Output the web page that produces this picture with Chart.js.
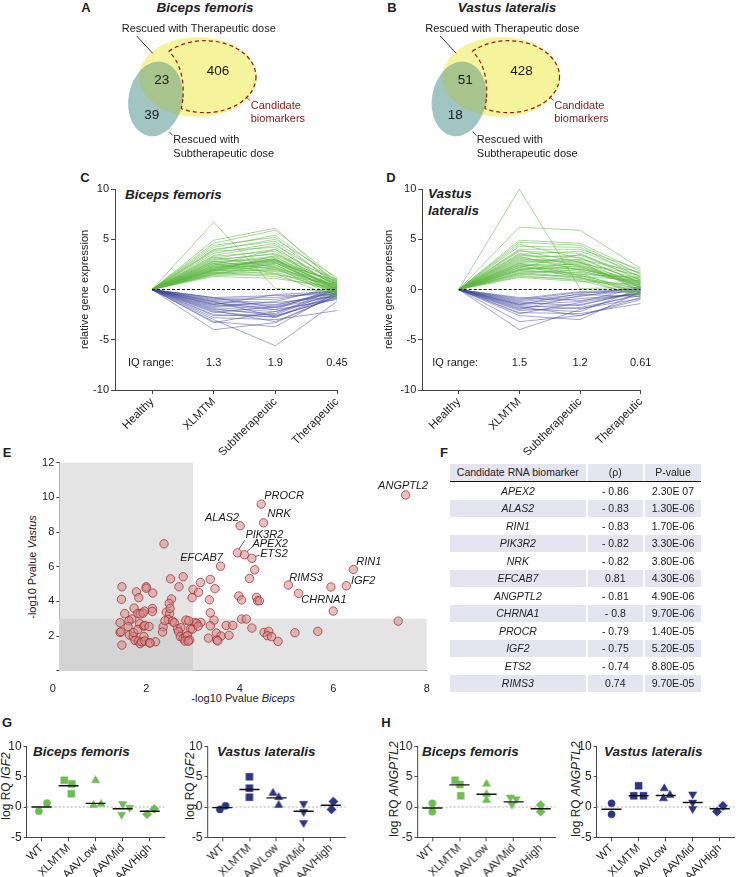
<!DOCTYPE html>
<html>
<head>
<meta charset="utf-8">
<script src="https://cdn.jsdelivr.net/npm/chart.js@4.4.0/dist/chart.umd.min.js"></script>
<style>
  body { margin: 0; background: #fff; }
  #page { position: relative; width: 738px; height: 877px; overflow: hidden; background: #fff;
          font-family: "Liberation Sans", Arial, sans-serif; color: #222; }
  canvas { position: absolute; }
  .lbl { position: absolute; white-space: nowrap; transform: translate(0, -50%); }
  .ctr { position: absolute; white-space: nowrap; transform: translate(-50%, -50%); }
  .vt { position: absolute; white-space: nowrap; transform: translate(-50%, -50%) rotate(-90deg); font-size: 11px; }
  .letter { font-weight: bold; font-size: 13px; }
  .ttl { font-weight: bold; font-style: italic; font-size: 13.5px; }
  .cell { position: absolute; font-size: 10.5px; text-align: center; white-space: nowrap; }
</style>
</head>
<body>
<div id="page">
  <div class="ctr letter" style="left:86px;top:7px">A</div>
  <div class="ctr letter" style="left:392px;top:7px">B</div>
  <div class="ctr letter" style="left:85px;top:177px">C</div>
  <div class="ctr letter" style="left:391px;top:177px">D</div>
  <div class="ctr letter" style="left:7px;top:452px">E</div>
  <div class="ctr letter" style="left:444px;top:452px">F</div>
  <div class="ctr letter" style="left:7px;top:722px">G</div>
  <div class="ctr letter" style="left:386px;top:722px">H</div>

  <div class="ctr ttl" style="left:205px;top:7px">Biceps femoris</div>
  <div class="ctr ttl" style="left:507px;top:7px">Vastus lateralis</div>
  <div class="lbl ttl" style="left:125px;top:194px">Biceps femoris</div>
  <div class="lbl ttl" style="left:428px;top:193px">Vastus</div>
  <div class="lbl ttl" style="left:428px;top:210px">lateralis</div>

  <div class="vt" style="left:32px;top:567px">-log10 Pvalue <i>Vastus</i></div>
  <div class="ctr" style="left:243px;top:698px;font-size:11px">-log10 Pvalue <i>Biceps</i></div>

  <div class="lbl ttl" style="left:33px;top:751px">Biceps femoris</div>
  <div class="lbl ttl" style="left:217px;top:751px">Vastus lateralis</div>
  <div class="lbl ttl" style="left:422px;top:751px">Biceps femoris</div>
  <div class="lbl ttl" style="left:604px;top:751px">Vastus lateralis</div>
  <div class="vt" style="left:6px;top:786px;font-size:12px">log RQ <i>IGF2</i></div>
  <div class="vt" style="left:190px;top:786px;font-size:12px">log RQ <i>IGF2</i></div>
  <div class="vt" style="left:394px;top:789px;font-size:12px">log RQ <i>ANGPTL2</i></div>
  <div class="vt" style="left:576px;top:789px;font-size:12px">log RQ <i>ANGPTL2</i></div>
</div>
<script>
"use strict";

var FONT = '"Liberation Sans", Arial, sans-serif';

// ---- A / B : Venn counts [therapeutic & subtherapeutic, candidates, subtherapeutic only]
var VENN_BF_COUNTS = [23, 406, 39];
var VENN_VL_COUNTS = [51, 428, 18];

// ---- C / D : relative expression at XLMTM, Subtherapeutic, Therapeutic (Healthy = 0)
var LINE_CATS = ["Healthy", "XLMTM", "Subtherapeutic", "Therapeutic"];
var BF_IQ = ["1.3", "1.9", "0.45"];
var VL_IQ = ["1.5", "1.2", "0.61"];

var BF_UP = [
    [6.7, 0.1, -0.2], [4.9, 6.1, 0.5], [4.6, 5.9, 1.0], [4.2, 5.4, 0.8], [4.4, 5.2, 0.3],
    [3.9, 5.0, 1.2], [4.0, 4.8, 0.6], [3.6, 4.6, -0.2], [3.4, 4.4, 0.9], [3.8, 4.2, 0.2],
    [3.1, 4.0, 0.7], [3.3, 3.8, -0.4], [2.9, 3.6, 0.4], [3.0, 3.5, 1.0], [2.7, 3.3, -0.1],
    [2.6, 3.2, 0.5], [2.8, 3.0, 0.0], [2.4, 3.0, 0.6], [2.2, 2.9, -0.5], [2.5, 2.8, 0.3],
    [2.1, 2.8, 0.8], [2.3, 2.7, -0.3], [2.0, 2.6, 0.2], [1.9, 2.5, -0.6], [2.2, 2.4, 0.4],
    [1.8, 2.3, 0.1], [2.0, 2.2, -0.8], [1.7, 2.1, 0.6], [1.6, 2.0, -0.2], [1.9, 1.9, 0.3],
    [1.5, 1.8, -0.4], [1.7, 1.6, 0.0], [1.4, 1.5, 0.5], [1.6, 1.3, -0.1], [1.3, 1.1, 0.2],
    [2.6, 1.6, -0.9], [3.2, 2.2, 0.1], [1.8, 3.4, 0.6], [2.4, 4.0, -0.3], [1.5, 2.6, 0.9],
    [2.0, 3.1, -0.6], [2.8, 2.0, 0.4], [2.3, 2.9, 0.2], [1.9, 2.7, -0.2], [2.1, 3.0, 0.1]
];
var BF_DOWN = [
    [-3.0, -5.6, -1.2], [-4.0, -3.3, -0.6], [-3.2, -3.7, -0.3], [-2.8, -3.0, -2.1], [-2.5, -2.7, -0.8],
    [-2.6, -2.5, -0.2], [-2.2, -2.8, -0.5], [-2.0, -2.4, 0.1], [-1.9, -2.6, -0.9], [-1.8, -2.2, -0.4],
    [-1.6, -2.0, 0.2], [-1.5, -1.8, -0.6], [-1.4, -1.6, -0.1], [-1.2, -1.5, -0.3], [-1.1, -1.3, -0.7],
    [-1.0, -1.0, 0.0], [-0.9, -0.8, -0.2], [-0.8, -0.6, -0.5], [-1.3, -2.0, -1.0], [-2.3, -1.7, -0.3],
    [-1.7, -1.2, 0.3], [-2.1, -3.2, -0.6], [-0.8, -1.8, -0.1], [-1.2, -2.7, -0.4], [-3.3, -2.2, -0.8],
    [-1.5, -0.5, -0.2]
];
var VL_UP = [
    [10.0, 0.1, 0.2], [6.2, 5.9, 2.1], [4.9, 4.6, 1.8], [4.7, 4.4, 1.5], [4.3, 4.2, 1.2],
    [4.0, 4.0, 2.0], [3.8, 3.6, 0.9], [3.5, 3.8, 1.6], [3.4, 3.2, 0.6], [3.2, 3.4, 1.1],
    [3.0, 2.9, 0.3], [3.1, 2.6, 1.4], [2.9, 2.4, 0.8], [2.7, 2.8, -0.2], [2.6, 2.2, 0.5],
    [2.5, 2.0, 1.0], [2.4, 2.5, 0.2], [2.3, 1.8, 0.7], [2.2, 1.6, -0.4], [2.1, 2.1, 0.4],
    [2.0, 1.5, 1.2], [1.9, 1.4, 0.0], [1.8, 1.7, 0.6], [1.7, 1.2, -0.3], [1.6, 1.1, 0.3],
    [1.5, 1.3, 0.9], [1.4, 0.9, -0.6], [1.3, 1.0, 0.1], [1.2, 0.8, 0.5], [3.6, 2.3, 0.2],
    [2.8, 3.0, 1.7], [4.5, 3.1, 0.7], [1.9, 2.7, -0.1], [2.4, 1.2, -0.8], [3.3, 1.9, 0.4],
    [2.2, 3.5, 1.3], [1.6, 2.0, 0.8], [2.6, 1.4, -0.5], [3.9, 2.7, 1.0], [2.0, 2.3, 0.6]
];
var VL_DOWN = [
    [-4.0, -2.0, -0.4], [-3.2, -2.6, -0.8], [-2.6, -3.0, -0.2], [-2.3, -2.4, -1.4], [-2.1, -1.8, -0.6],
    [-1.9, -2.2, 0.1], [-1.8, -1.5, -0.3], [-1.6, -1.9, -0.9], [-1.5, -1.2, 0.2], [-1.4, -0.9, -0.5],
    [-1.3, -1.6, -0.1], [-1.2, -0.7, 0.3], [-1.1, -0.5, -0.7], [-1.0, -0.3, -0.2], [-0.9, -0.2, 0.0],
    [-0.8, -1.1, -0.4], [-2.0, -0.6, -0.1], [-1.7, -2.6, -1.0], [-1.5, -0.4, 0.1], [-2.4, -1.3, -0.3]
];

// ---- E : -log10 P (Biceps, Vastus); first 12 points are the labelled genes
var E_GENES = ["ANGPTL2", "PROCR", "NRK", "ALAS2", "PIK3R2", "APEX2", "ETS2", "EFCAB7", "RIN1", "IGF2", "RIMS3", "CHRNA1"];
var E_CUTOFF = 3;
var E_X = [
    7.55, 4.46, 4.51, 4.01, 3.95, 4.10, 4.26, 3.59, 6.43, 6.28, 5.04, 5.26,
    4.32, 5.95, 6.00, 7.39, 2.38, 4.21, 3.37, 3.47, 3.16, 2.79, 2.52, 2.70, 3.00, 3.12,
    2.98, 3.35, 3.98, 4.04, 4.36, 4.38, 4.42, 3.37, 3.45, 4.04, 4.14, 3.71, 3.85, 4.26,
    1.48, 2.00, 2.00, 1.79, 2.14, 1.47, 1.84, 2.54, 2.49, 1.74, 2.13, 2.13, 1.96, 1.54,
    2.43, 2.50, 1.82, 1.87, 1.93, 1.69, 1.63, 1.44, 2.47, 2.56, 2.60, 2.85, 3.04, 3.17,
    2.95, 2.67, 2.74, 2.36, 2.51,
    1.44, 1.46, 1.48, 1.61, 1.64, 1.72, 1.73, 1.86, 1.82, 1.76, 1.83, 1.87, 1.90, 1.95,
    1.97, 2.06, 1.95, 1.97, 2.07, 2.20, 2.35, 2.40, 2.69, 2.73, 2.79, 2.84, 2.88, 2.83,
    2.93, 2.99, 2.91, 3.08, 3.11, 3.37, 3.50, 3.60, 3.51, 3.33, 3.77, 4.52, 4.62, 4.59,
    4.68, 4.82, 5.18, 5.67, 2.08, 2.90, 3.53
];
var E_Y = [
    10.14, 9.61, 8.53, 8.36, 6.80, 6.69, 6.48, 6.03, 5.84, 4.90, 4.94, 4.46,
    5.82, 4.83, 3.44, 2.86, 7.32, 5.32, 5.27, 4.73, 5.09, 5.42, 5.30, 4.84, 4.69, 4.52,
    4.21, 4.09, 4.31, 4.08, 4.23, 4.03, 4.03, 3.34, 2.92, 2.98, 2.98, 2.61, 2.61, 2.46,
    4.84, 4.84, 4.76, 4.55, 4.48, 4.12, 4.21, 4.14, 3.88, 3.61, 3.59, 3.42, 3.44, 3.29,
    3.38, 3.29, 3.30, 3.27, 3.32, 2.98, 2.88, 2.77, 2.96, 2.86, 2.77, 2.92, 2.79, 2.79,
    2.42, 2.42, 2.48, 2.53, 3.59,
    2.21, 2.25, 1.48, 2.54, 2.06, 1.97, 2.20, 2.71, 2.38, 1.75, 1.71, 1.56, 1.67, 2.57,
    2.61, 2.55, 1.97, 1.71, 1.61, 1.67, 2.23, 2.88, 2.25, 1.96, 1.86, 1.96, 2.02, 1.71,
    1.77, 2.40, 2.88, 2.73, 2.57, 2.59, 2.17, 2.00, 1.77, 1.88, 2.04, 2.21, 2.27, 2.02,
    1.96, 1.69, 2.19, 2.27, 1.60, 1.70, 1.72
];

// ---- F : table
var TABLE_GENES = ["APEX2", "ALAS2", "RIN1", "PIK3R2", "NRK", "EFCAB7", "ANGPTL2", "CHRNA1", "PROCR", "IGF2", "ETS2", "RIMS3"];
var TABLE_RHO = ["- 0.86", "- 0.83", "- 0.83", "- 0.82", "- 0.82", "0.81", "- 0.81", "- 0.8", "- 0.79", "- 0.75", "- 0.74", "0.74"];
var TABLE_P = ["2.30E 07", "1.30E-06", "1.70E-06", "3.30E-06", "3.80E-06", "4.30E-06", "4.90E-06", "9.70E-06", "1.40E-05", "5.20E-05", "8.80E-05", "9.70E-05"];

// ---- G / H : log RQ per group, and the line drawn for each group
var DOT_GROUPS = ["WT", "XLMTM", "AAVLow", "AAVMid", "AAVHigh"];
var G_BF_IGF2 = [[-0.7, 0.65], [4.4, 3.8, 2.2], [4.4, 0.3, 0.5], [0.5, -0.1, -1.25], [-1.2, -0.3]];
var G_BF_IGF2_MID = [0, 3.5, 0.6, -0.3, -0.7];
var G_VL_IGF2 = [[-0.4, 0.2], [5.0, 3.1, 1.6], [2.3, 1.6, 0.3], [0.55, -0.8, -2.6], [0.9, -0.4]];
var G_VL_IGF2_MID = [-0.1, 2.9, 1.5, -0.7, 0.3];
var H_BF_ANG = [[0.6, -0.77], [4.4, 3.7, 1.85], [3.8, 2.1, 1.15], [1.6, 1.3, 0.4], [0.33, -0.77]];
var H_BF_ANG_MID = [-0.16, 3.65, 2.1, 0.85, -0.3];
var H_VL_ANG = [[0.6, -1.2], [3.5, 1.85, 1.85], [3.05, 1.4, 1.97], [2.1, 0.75, -0.3], [-0.77, 0.2]];
var H_VL_ANG_MID = [-0.38, 1.85, 1.9, 0.75, -0.3];

// horizontal spread of the dots inside a group (layout only)
var G_BF_JIT = [[-0.1, 0.2], [-0.16, 0.12, 0.1], [0, -0.08, 0.2], [0, 0.26, -0.04], [-0.1, 0.17]];
var G_VL_JIT = [[-0.09, 0.12], [0, 0, 0], [-0.13, 0.08, 0.08], [0, 0, 0], [0.1, 0.03]];
var H_BF_JIT = [[0, 0], [-0.16, 0.02, 0.05], [0, 0, 0], [-0.12, 0.1, -0.06], [0, 0]];
var H_VL_JIT = [[0, 0], [0, -0.18, 0.18], [-0.05, -0.08, 0.16], [0, 0, 0], [-0.1, 0.12]];

var GREEN_LINE = "rgba(92, 182, 64, 0.68)";
var BLUE_LINE  = "rgba(66, 72, 155, 0.62)";
var GREEN_DOT  = "#6dbd52";
var NAVY_DOT   = "#2c3586";

Chart.defaults.font.family = FONT;
Chart.defaults.color = "#222";

function makeCanvas(left, top, w, h)
{
    var c = document.createElement("canvas");
    c.width = w;
    c.height = h;
    c.style.left = left + "px";
    c.style.top = top + "px";
    c.style.width = w + "px";
    c.style.height = h + "px";
    document.getElementById("page").appendChild(c);
    return c;
}

function baseOptions(padding)
{
    return {
        responsive: false,
        devicePixelRatio: 1,
        animation: false,
        events: [],
        layout: {padding: padding},
        plugins: {legend: {display: false}, tooltip: {enabled: false}}
    };
}

// ---------------- Venn (A, B)
var VENN_YELLOW = {cx: 198, cy: 77, rx: 59, ry: 40, rot: 0};
var VENN_BLUE   = {cx: 155.5, cy: 99, rx: 27, ry: 37.5, rot: 0.18};
var VENN_DASH_O = {cx: 205, cy: 76.7, rx: 51, ry: 36, rot: 0};
var VENN_DASH_I = {cx: 152, cy: 96, rx: 31, ry: 50, rot: 0.1};
var VENN_COUNT_POS = [[161.7, 80], [218, 71.7], [151.7, 115]];

var vennPlugin = {
    id: "venn",
    afterDraw: function (chart, args, o)
    {
        var ctx = chart.ctx, sx = chart.scales.x, sy = chart.scales.y;
        var px = function (v) { return sx.getPixelForValue(v + o.shift); };
        var py = function (v) { return sy.getPixelForValue(v); };
        var ell = function (e) {
            ctx.beginPath();
            ctx.ellipse(px(e.cx), py(e.cy), e.rx, e.ry, e.rot, 0, Math.PI * 2);
        };

        ctx.save();
        ell(VENN_YELLOW);
        ctx.fillStyle = "#f6f39d";
        ctx.fill();
        ell(VENN_BLUE);
        ctx.fillStyle = "#a0c5c3";
        ctx.fill();
        ctx.save();
        ell(VENN_YELLOW);
        ctx.clip();
        ell(VENN_BLUE);
        ctx.fillStyle = "#a7c48d";
        ctx.fill();
        ctx.restore();

        // dashed "candidate biomarkers" outline
        ctx.setLineDash([4, 3]);
        ctx.strokeStyle = "#8e1b1b";
        ctx.lineWidth = 1.2;
        ctx.save();
        ctx.beginPath();
        ctx.rect(0, 0, chart.width, chart.height);
        ctx.ellipse(px(VENN_DASH_I.cx), py(VENN_DASH_I.cy), VENN_DASH_I.rx, VENN_DASH_I.ry, VENN_DASH_I.rot, 0, Math.PI * 2);
        ctx.clip("evenodd");
        ell(VENN_DASH_O);
        ctx.stroke();
        ctx.restore();
        ctx.save();
        ell(VENN_DASH_O);
        ctx.clip();
        ell(VENN_DASH_I);
        ctx.stroke();
        ctx.restore();
        ctx.setLineDash([]);

        // counts
        ctx.fillStyle = "#1a1a1a";
        ctx.font = "13.5px " + FONT;
        ctx.textAlign = "center";
        ctx.textBaseline = "middle";
        o.counts.forEach(function (n, i) {
            ctx.fillText(String(n), px(VENN_COUNT_POS[i][0]), py(VENN_COUNT_POS[i][1]));
        });

        // labels and leaders
        ctx.font = "11px " + FONT;
        ctx.textAlign = "left";
        ctx.fillText("Rescued with Therapeutic dose", px(121.7), py(29.3));
        ctx.fillText("Rescued with", px(173.3), py(140));
        ctx.fillText("Subtherapeutic dose", px(173.3), py(154));
        ctx.lineWidth = 0.9;
        ctx.strokeStyle = "#222";
        ctx.beginPath();
        ctx.moveTo(px(136.7), py(36));
        ctx.lineTo(px(152.7), py(53.3));
        ctx.moveTo(px(169.3), py(131.7));
        ctx.lineTo(px(172.7), py(135.5));
        ctx.stroke();
        ctx.fillStyle = "#7d1c1c";
        ctx.fillText("Candidate", px(250.7), py(105.7));
        ctx.fillText("biomarkers", px(250.7), py(119));
        ctx.strokeStyle = "#7d1c1c";
        ctx.beginPath();
        ctx.moveTo(px(246), py(96.7));
        ctx.lineTo(px(250), py(100.7));
        ctx.stroke();
        ctx.restore();
    }
};

function drawVenn(left, counts, shift)
{
    var opts = baseOptions(0);
    opts.scales = {
        x: {type: "linear", min: 0, max: 369, display: false},
        y: {type: "linear", min: 0, max: 170, reverse: true, display: false}
    };
    opts.plugins.venn = {counts: counts, shift: shift};
    new Chart(makeCanvas(left, 0, 369, 170), {
        type: "scatter",
        data: {datasets: [{data: []}]},
        options: opts,
        plugins: [vennPlugin]
    });
}

// ---------------- line panels (C, D)
var iqPlugin = {
    id: "iqRange",
    afterDatasetsDraw: function (chart, args, o)
    {
        var ctx = chart.ctx, sx = chart.scales.x, sy = chart.scales.y;
        var yy = sy.getPixelForValue(-7.3);
        ctx.save();
        ctx.font = "11px " + FONT;
        ctx.fillStyle = "#222";
        ctx.textBaseline = "middle";
        ctx.textAlign = "left";
        ctx.fillText("IQ range:", chart.chartArea.left + o.left, yy);
        ctx.textAlign = "center";
        o.values.forEach(function (v, i) {
            ctx.fillText(v, sx.getPixelForValue(i + 1), yy);
        });
        ctx.restore();
    }
};

function drawLines(left, padLeft, yWidth, padRight, up, down, iq, iqLeft)
{
    var datasets = [{
        data: [{x: 0, y: 0}, {x: 3, y: 0}],
        borderColor: "#111", borderWidth: 1.1, borderDash: [3, 2], pointRadius: 0
    }];
    up.forEach(function (r) {
        datasets.push({
            data: [0].concat(r).map(function (v, i) { return {x: i, y: v}; }),
            borderColor: GREEN_LINE, borderWidth: 0.8, pointRadius: 0
        });
    });
    down.forEach(function (r) {
        datasets.push({
            data: [0].concat(r).map(function (v, i) { return {x: i, y: v}; }),
            borderColor: BLUE_LINE, borderWidth: 0.8, pointRadius: 0
        });
    });

    var opts = baseOptions({left: padLeft, right: padRight, top: 19, bottom: 0});
    opts.plugins.iqRange = {values: iq, left: iqLeft};
    opts.scales = {
        x: {
            type: "linear", min: -0.6, max: 3,
            afterBuildTicks: function (s) { s.ticks = LINE_CATS.map(function (c, i) { return {value: i}; }); },
            afterFit: function (s) { s.height = 65; },
            ticks: {
                callback: function (v) { return LINE_CATS[v]; },
                minRotation: 45, maxRotation: 45, autoSkip: false,
                font: {size: 11.5}, color: "#222", padding: 1
            },
            grid: {drawOnChartArea: false, tickLength: 4, color: "#444"},
            border: {color: "#444", width: 1}
        },
        y: {
            min: -10, max: 10,
            afterFit: function (s) { s.width = yWidth; },
            ticks: {stepSize: 5, font: {size: 11}, color: "#222", padding: 2},
            grid: {drawOnChartArea: false, tickLength: 4, color: "#444"},
            border: {color: "#444", width: 1},
            title: {display: true, text: "relative gene expression", font: {size: 11}, color: "#222", padding: {top: 4, bottom: 2}}
        }
    };
    new Chart(makeCanvas(left, 170, 369, 285), {
        type: "line",
        data: {datasets: datasets},
        options: opts,
        plugins: [iqPlugin]
    });
}

// ---------------- volcano-like scatter (E)
var E_LABEL_POS = [
    [-2.5, -9, "center"], [3, -8.3, "left"], [4, -8.7, "left"], [-1, -7.7, "right"],
    [8, -17.7, "left"], [8, -10.4, "left"], [8.4, -4.3, "left"], [2.4, -8.3, "right"],
    [3, -8, "left"], [4.7, -5, "left"], [1, -7, "left"], [2.7, 6.7, "left"]
];
var E_LEADERS = {4: [1.5, -3.7, 7.5, -12.7], 5: [2.5, -3.2, 8, -7.7], 6: [3.2, -1.8, 7.8, -3.3]};

var regionPlugin = {
    id: "regions",
    beforeDatasetsDraw: function (chart)
    {
        var ctx = chart.ctx, a = chart.chartArea;
        var xc = chart.scales.x.getPixelForValue(E_CUTOFF);
        var yc = chart.scales.y.getPixelForValue(E_CUTOFF);
        ctx.save();
        ctx.fillStyle = "#e4e4e4";
        ctx.fillRect(a.left, a.top, xc - a.left, a.bottom - a.top);
        ctx.fillRect(a.left, yc, a.right - a.left, a.bottom - yc);
        ctx.fillStyle = "#d4d4d4";
        ctx.fillRect(a.left, yc, xc - a.left, a.bottom - yc);
        ctx.restore();
    }
};

var geneLabelPlugin = {
    id: "geneLabels",
    afterDatasetsDraw: function (chart)
    {
        var ctx = chart.ctx, sx = chart.scales.x, sy = chart.scales.y;
        ctx.save();
        ctx.font = "italic 11px " + FONT;
        ctx.fillStyle = "#1a1a1a";
        ctx.textBaseline = "middle";
        ctx.strokeStyle = "#333";
        ctx.lineWidth = 0.8;
        E_GENES.forEach(function (g, i) {
            var x = sx.getPixelForValue(E_X[i]), y = sy.getPixelForValue(E_Y[i]);
            var p = E_LABEL_POS[i];
            ctx.textAlign = p[2];
            ctx.fillText(g, x + p[0], y + p[1]);
            var l = E_LEADERS[i];
            if (l) {
                ctx.beginPath();
                ctx.moveTo(x + l[0], y + l[1]);
                ctx.lineTo(x + l[2], y + l[3]);
                ctx.stroke();
            }
        });
        ctx.restore();
    }
};

function drawScatter()
{
    var opts = baseOptions({left: 29, right: 13.3, top: 10.7, bottom: 0});
    opts.scales = {
        x: {
            type: "linear", min: 0.14, max: 8,
            afterBuildTicks: function (s) { s.ticks = [0, 2, 4, 6, 8].map(function (v) { return {value: v}; }); },
            afterFit: function (s) { s.height = 21.3; },
            ticks: {font: {size: 11}, color: "#222", padding: 4, maxRotation: 0},
            grid: {display: false},
            border: {color: "#444", width: 1}
        },
        y: {
            min: 0, max: 12,
            afterFit: function (s) { s.width = 30.3; },
            ticks: {stepSize: 2, font: {size: 11}, color: "#222", padding: 2,
                    callback: function (v) { return v === 0 ? "" : v; }},
            grid: {drawOnChartArea: false, tickLength: 3, color: "#444"},
            border: {color: "#444", width: 1}
        }
    };
    new Chart(makeCanvas(0, 452, 440, 240), {
        type: "scatter",
        data: {
            datasets: [{
                data: E_X.map(function (x, i) { return {x: x, y: E_Y[i]}; }),
                pointRadius: 4.2,
                backgroundColor: "rgba(214, 138, 138, 0.55)",
                borderColor: "rgba(158, 28, 28, 0.85)",
                borderWidth: 0.8
            }]
        },
        options: opts,
        plugins: [regionPlugin, geneLabelPlugin]
    });
}

// ---------------- table (F)
function drawTable()
{
    var page = document.getElementById("page");
    var lefts = [450, 587.7, 645], widths = [135.7, 55.3, 56];
    var add = function (text, l, t, w, h, bg, italic) {
        var d = document.createElement("div");
        d.className = "cell";
        d.style.left = l + "px";
        d.style.top = t + "px";
        d.style.width = w + "px";
        d.style.height = h + "px";
        d.style.lineHeight = h + "px";
        if (bg) { d.style.background = bg; }
        if (italic) { d.style.fontStyle = "italic"; }
        d.textContent = text;
        page.appendChild(d);
    };
    var head = ["Candidate RNA biomarker", "(\u03c1)", "P-value"];
    head.forEach(function (h, j) { add(h, lefts[j], 464, widths[j], 16.5, "#e5e5f1", false); });
    var line = document.createElement("div");
    line.style.cssText = "position:absolute;left:450px;top:480.5px;width:251px;height:1.6px;background:#111";
    page.appendChild(line);
    TABLE_GENES.forEach(function (g, i) {
        var top = 482.5 + 17.5 * i;
        var bg = (i % 2 === 1) ? "#e5e5f1" : null;
        add(g, lefts[0], top, widths[0], 16.5, bg, true);
        add(TABLE_RHO[i], lefts[1], top, widths[1], 16.5, bg, false);
        add(TABLE_P[i], lefts[2], top, widths[2], 16.5, bg, false);
    });
}

// ---------------- dot plots (G, H)
var DOT_STYLES = [
    {pointStyle: "circle", radius: 3.6, rotation: 0},
    {pointStyle: "rect", radius: 4.9, rotation: 0},
    {pointStyle: "triangle", radius: 4.7, rotation: 0},
    {pointStyle: "triangle", radius: 4.7, rotation: 180},
    {pointStyle: "rectRot", radius: 4.6, rotation: 0}
];

function drawDots(left, yWidth, groups, mids, jit, color)
{
    var datasets = [{
        type: "line",
        data: [{x: -0.55, y: 0}, {x: 4.55, y: 0}],
        borderColor: "#a8a8a8", borderWidth: 1, borderDash: [2, 2], pointRadius: 0, order: 3
    }];
    datasets.push({
        data: mids.map(function (m, i) { return {x: i, y: m}; }),
        pointStyle: "line", pointRadius: 10, borderColor: "#111", borderWidth: 1.4, order: 0
    });
    groups.forEach(function (vals, g) {
        var st = DOT_STYLES[g];
        datasets.push({
            data: vals.map(function (v, k) { return {x: g + jit[g][k], y: v}; }),
            pointStyle: st.pointStyle, pointRadius: st.radius, rotation: st.rotation,
            backgroundColor: color, borderColor: color, borderWidth: 0.5, order: 1
        });
    });

    var opts = baseOptions({left: 0, right: 8.3, top: 10, bottom: 0});
    opts.scales = {
        x: {
            type: "linear", min: -0.55, max: 4.55,
            afterBuildTicks: function (s) { s.ticks = DOT_GROUPS.map(function (c, i) { return {value: i}; }); },
            afterFit: function (s) { s.height = 39.7; },
            ticks: {
                callback: function (v) { return DOT_GROUPS[v]; },
                minRotation: 45, maxRotation: 45, autoSkip: false,
                font: {size: 11.5}, color: "#222", padding: 0
            },
            grid: {drawOnChartArea: false, tickLength: 4, color: "#444"},
            border: {color: "#444", width: 1}
        },
        y: {
            min: -5, max: 10,
            afterFit: function (s) { s.width = yWidth; },
            ticks: {stepSize: 5, font: {size: 12}, color: "#222", padding: 2},
            grid: {drawOnChartArea: false, tickLength: 3, color: "#444"},
            border: {color: "#444", width: 1}
        }
    };
    new Chart(makeCanvas(left, 735, yWidth + 141 + 8.3, 142), {
        type: "scatter",
        data: {datasets: datasets},
        options: opts
    });
}

window.addEventListener("DOMContentLoaded", function ()
{
    drawVenn(0, VENN_BF_COUNTS, 0);
    drawVenn(369, VENN_VL_COUNTS, -65.5);
    drawLines(0, 74, 41, 32, BF_UP, BF_DOWN, BF_IQ, 13);
    drawLines(369, 9.7, 43.6, 97.3, VL_UP, VL_DOWN, VL_IQ, 10);
    drawScatter();
    drawTable();
    drawDots(0, 26.7, G_BF_IGF2, G_BF_IGF2_MID, G_BF_JIT, GREEN_DOT);
    drawDots(180, 27.3, G_VL_IGF2, G_VL_IGF2_MID, G_VL_JIT, NAVY_DOT);
    drawDots(390, 27.3, H_BF_ANG, H_BF_ANG_MID, H_BF_JIT, GREEN_DOT);
    drawDots(570, 26.7, H_VL_ANG, H_VL_ANG_MID, H_VL_JIT, NAVY_DOT);
});
</script>
</body>
</html>
